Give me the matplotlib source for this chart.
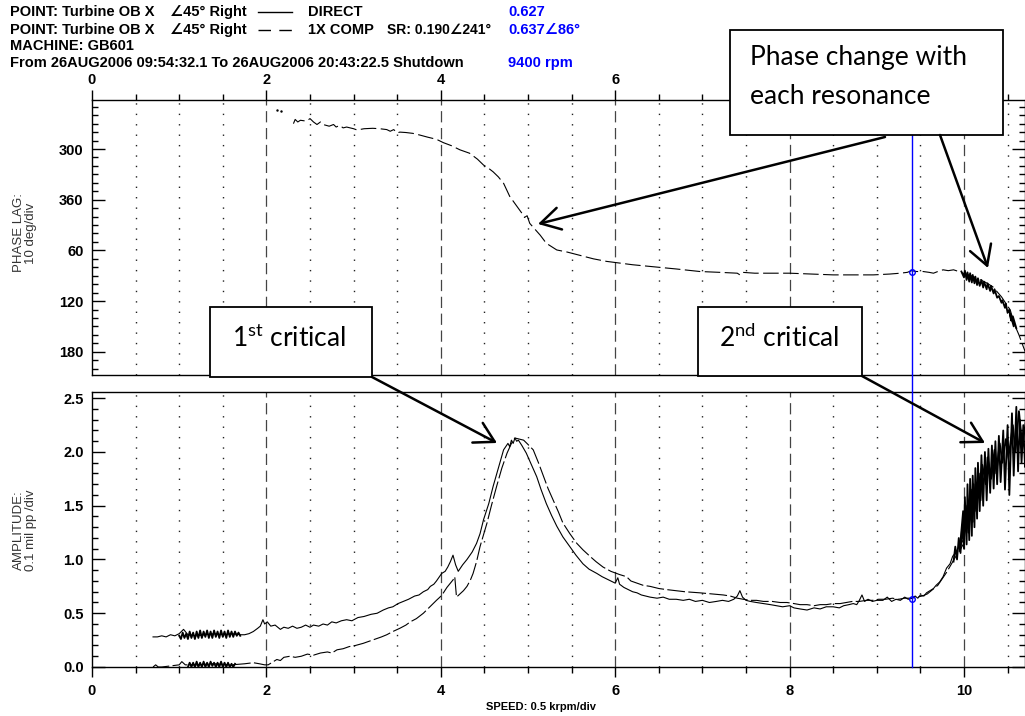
import matplotlib
matplotlib.use("Agg")
import matplotlib.pyplot as plt
from matplotlib.patches import Rectangle, FancyArrowPatch
from matplotlib.lines import Line2D
from matplotlib.ticker import MultipleLocator, FixedLocator

plt.rcParams['font.family'] = ['Liberation Sans', 'DejaVu Sans']
plt.rcParams['mathtext.fontset'] = 'custom'
plt.rcParams['mathtext.rm'] = 'Lato'

W_PX, H_PX = 1025, 716
X_PER_PX = 87.2  # px per krpm

# ---- data ----
# 1X comp phase lag, unwrapped deg (300,360,420=60,480=120,540=180)
phase_pts = [(2.31, 270), (2.33, 265), (2.36, 268), (2.39, 266), (2.46, 267), (2.5, 264),
             (2.54, 268), (2.58, 271), (2.62, 268), (2.65, 271), (2.72, 273), (2.77, 271),
             (2.8, 274), (2.84, 272), (2.88, 275), (2.92, 274), (3.0, 276), (3.04, 277.5),
             (3.12, 276), (3.22, 275.5), (3.3, 276), (3.38, 277), (3.42, 279), (3.46, 277),
             (3.5, 281), (3.53, 280), (3.6, 280.5), (3.68, 281.5), (3.76, 283.5), (3.85, 286),
             (3.95, 288.5), (4.03, 292.5), (4.12, 296), (4.22, 301), (4.33, 305), (4.42, 312),
             (4.49, 319), (4.55, 323), (4.6, 327), (4.66, 333), (4.72, 340.6), (4.79, 356),
             (4.86, 366), (4.93, 376), (4.96, 381), (4.99, 379), (5.02, 388), (5.08, 395),
             (5.14, 402), (5.21, 411.6), (5.33, 419.5), (5.45, 422), (5.6, 426), (5.75, 430),
             (5.9, 433), (6.05, 435), (6.2, 437), (6.35, 438.5), (6.5, 440), (6.7, 442),
             (6.97, 445), (7.2, 446), (7.4, 447), (7.43, 449), (7.46, 446), (7.6, 447),
             (7.8, 447), (8.0, 447), (8.25, 448), (8.5, 449), (8.75, 449), (8.96, 449),
             (9.15, 448), (9.27, 447), (9.35, 446), (9.4, 444), (9.45, 445), (9.53, 445),
             (9.6, 446), (9.65, 447), (9.7, 445), (9.76, 443), (9.82, 444), (9.88, 443),
             (9.94, 445), (9.99, 447), (10.08, 450), (10.15, 453), (10.25, 458), (10.33, 463),
             (10.43, 475), (10.53, 490.5), (10.58, 508), (10.63, 520), (10.68, 534), (10.72, 545)]
phase_dots = [(2.12, 254), (2.17, 255)]
phase_band = [(9.97, 445), (10.0, 452), (10.01, 444), (10.03, 455), (10.04, 446), (10.06, 457),
              (10.07, 447), (10.09, 458), (10.1, 449), (10.12, 459), (10.13, 451), (10.15, 461),
              (10.16, 453), (10.18, 462), (10.2, 455), (10.22, 464), (10.23, 457), (10.26, 466),
              (10.27, 459), (10.3, 468), (10.31, 462), (10.34, 471), (10.35, 466), (10.38, 476),
              (10.4, 474), (10.43, 482), (10.44, 479), (10.47, 488), (10.48, 483), (10.5, 494),
              (10.52, 490), (10.54, 503), (10.53, 495), (10.57, 510), (10.56, 498), (10.6, 512)]

# amplitude, mil pp
direct_amp = [(0.70, 0.28), (0.75, 0.28), (0.8, 0.29), (0.85, 0.28), (0.9, 0.30), (0.95, 0.29),
              (1.0, 0.31), (1.05, 0.35), (1.1, 0.30), (1.2, 0.29), (1.3, 0.30), (1.4, 0.31),
              (1.5, 0.30), (1.6, 0.31), (1.7, 0.30), (1.75, 0.30), (1.8, 0.31), (1.85, 0.33),
              (1.9, 0.36), (1.93, 0.38), (1.96, 0.44), (1.98, 0.40), (2.01, 0.42), (2.05, 0.38),
              (2.1, 0.39), (2.16, 0.35), (2.2, 0.37), (2.25, 0.36), (2.3, 0.38), (2.35, 0.36),
              (2.4, 0.37), (2.45, 0.39), (2.5, 0.37), (2.54, 0.39), (2.6, 0.38), (2.65, 0.40),
              (2.7, 0.39), (2.75, 0.42), (2.8, 0.41), (2.86, 0.43), (2.92, 0.44), (2.98, 0.43),
              (3.05, 0.46), (3.12, 0.47), (3.2, 0.49), (3.27, 0.50), (3.34, 0.53), (3.4, 0.55),
              (3.45, 0.56), (3.51, 0.59), (3.57, 0.61), (3.63, 0.63), (3.7, 0.66), (3.75, 0.67),
              (3.8, 0.70), (3.85, 0.72), (3.88, 0.75), (3.92, 0.77), (3.95, 0.80), (4.01, 0.87),
              (4.05, 0.89), (4.08, 0.93), (4.11, 0.98), (4.14, 1.04), (4.17, 0.95), (4.2, 0.89),
              (4.25, 0.95), (4.3, 1.00), (4.36, 1.07), (4.41, 1.15), (4.45, 1.24), (4.49, 1.37),
              (4.55, 1.52), (4.6, 1.68), (4.66, 1.85), (4.72, 2.02), (4.77, 2.08), (4.79, 2.05),
              (4.81, 2.11), (4.83, 2.08), (4.85, 2.13), (4.87, 2.10), (4.89, 2.11), (4.93, 2.06),
              (4.98, 1.99), (5.04, 1.88), (5.1, 1.77), (5.15, 1.65), (5.21, 1.52), (5.27, 1.41),
              (5.33, 1.31), (5.4, 1.21), (5.48, 1.12), (5.55, 1.04), (5.63, 0.96), (5.7, 0.91),
              (5.79, 0.87), (5.85, 0.84), (5.9, 0.82), (5.95, 0.80), (6.0, 0.78), (6.03, 0.83),
              (6.05, 0.77), (6.1, 0.74), (6.15, 0.72), (6.2, 0.70), (6.25, 0.69), (6.3, 0.67),
              (6.35, 0.66), (6.4, 0.65), (6.48, 0.64), (6.55, 0.65), (6.62, 0.63), (6.7, 0.63),
              (6.78, 0.62), (6.85, 0.63), (6.92, 0.61), (7.0, 0.62), (7.08, 0.60), (7.16, 0.61),
              (7.23, 0.62), (7.3, 0.61), (7.36, 0.63), (7.4, 0.66), (7.43, 0.71), (7.46, 0.65),
              (7.5, 0.62), (7.55, 0.61), (7.62, 0.60), (7.7, 0.59), (7.78, 0.58), (7.85, 0.57),
              (7.92, 0.56), (8.0, 0.57), (8.05, 0.55), (8.12, 0.54), (8.2, 0.53), (8.28, 0.55),
              (8.35, 0.54), (8.42, 0.56), (8.5, 0.56), (8.57, 0.55), (8.62, 0.57), (8.68, 0.58),
              (8.73, 0.59), (8.77, 0.58), (8.8, 0.62), (8.83, 0.67), (8.86, 0.61), (8.9, 0.63),
              (8.95, 0.61), (9.0, 0.62), (9.07, 0.62), (9.12, 0.65), (9.17, 0.61), (9.22, 0.63),
              (9.27, 0.62), (9.32, 0.65), (9.36, 0.63), (9.4, 0.64), (9.44, 0.66), (9.47, 0.64),
              (9.5, 0.67), (9.54, 0.66), (9.57, 0.69), (9.61, 0.71), (9.65, 0.73), (9.68, 0.76),
              (9.72, 0.79), (9.76, 0.84), (9.8, 0.92), (9.84, 0.96), (9.87, 1.03), (9.9, 1.06),
              (9.93, 1.10), (9.96, 1.14), (9.99, 1.18)]
comp_amp = [(0.70, 0.00), (0.73, 0.02), (0.76, 0.00), (0.8, 0.00), (0.9, 0.01), (1.0, 0.02),
            (1.03, 0.05), (1.07, 0.02), (1.2, 0.02), (1.4, 0.03), (1.6, 0.02), (1.75, 0.03),
            (1.85, 0.04), (1.92, 0.03), (1.98, 0.02), (2.02, 0.02), (2.12, 0.07), (2.16, 0.06),
            (2.2, 0.09), (2.27, 0.10), (2.33, 0.09), (2.4, 0.10), (2.47, 0.12), (2.54, 0.11),
            (2.62, 0.13), (2.7, 0.14), (2.75, 0.13), (2.81, 0.16), (2.88, 0.17), (2.95, 0.19),
            (3.02, 0.20), (3.11, 0.22), (3.18, 0.24), (3.25, 0.26), (3.32, 0.28), (3.38, 0.30),
            (3.45, 0.33), (3.53, 0.36), (3.6, 0.39), (3.65, 0.42), (3.72, 0.45), (3.8, 0.50),
            (3.85, 0.54), (3.9, 0.58), (3.95, 0.62), (3.99, 0.65), (4.03, 0.69), (4.07, 0.74),
            (4.11, 0.78), (4.14, 0.81), (4.16, 0.84), (4.18, 0.65), (4.22, 0.68), (4.26, 0.71),
            (4.3, 0.75), (4.34, 0.81), (4.37, 0.87), (4.41, 0.98), (4.45, 1.12), (4.49, 1.23),
            (4.53, 1.34), (4.58, 1.50), (4.64, 1.68), (4.7, 1.85), (4.76, 1.99), (4.81, 2.08),
            (4.85, 2.13), (4.9, 2.12), (4.95, 2.11), (5.0, 2.07), (5.06, 2.02), (5.12, 1.90),
            (5.18, 1.77), (5.23, 1.66), (5.29, 1.55), (5.35, 1.44), (5.4, 1.34), (5.48, 1.24),
            (5.56, 1.15), (5.63, 1.09), (5.71, 1.03), (5.78, 0.98), (5.86, 0.93), (5.95, 0.89),
            (6.05, 0.86), (6.13, 0.84), (6.18, 0.80), (6.25, 0.78), (6.32, 0.76), (6.4, 0.75),
            (6.5, 0.73), (6.59, 0.72), (6.7, 0.71), (6.8, 0.70), (6.97, 0.69), (7.1, 0.68),
            (7.24, 0.67), (7.32, 0.66), (7.4, 0.64), (7.47, 0.63), (7.55, 0.62), (7.62, 0.62),
            (7.7, 0.61), (7.8, 0.61), (7.89, 0.60), (7.97, 0.60), (8.05, 0.59), (8.12, 0.58),
            (8.2, 0.58), (8.28, 0.57), (8.35, 0.58), (8.42, 0.58), (8.5, 0.59), (8.58, 0.59),
            (8.65, 0.60), (8.72, 0.61), (8.8, 0.61), (8.88, 0.62), (8.95, 0.62), (9.02, 0.63),
            (9.1, 0.63), (9.18, 0.64), (9.25, 0.63), (9.32, 0.64), (9.4, 0.64), (9.46, 0.65),
            (9.52, 0.66), (9.58, 0.68), (9.64, 0.72), (9.7, 0.76), (9.75, 0.82), (9.8, 0.88),
            (9.85, 0.95), (9.9, 1.02), (9.95, 1.08), (9.99, 1.14)]
direct_band_low = [(1.0, 0.29), (1.02, 0.26), (1.04, 0.32), (1.06, 0.27), (1.08, 0.31), (1.1, 0.26),
                   (1.12, 0.33), (1.14, 0.27), (1.16, 0.32), (1.18, 0.26), (1.2, 0.33), (1.22, 0.27),
                   (1.24, 0.34), (1.26, 0.27), (1.28, 0.33), (1.3, 0.28), (1.32, 0.34), (1.34, 0.27),
                   (1.36, 0.33), (1.38, 0.27), (1.4, 0.34), (1.42, 0.28), (1.44, 0.33), (1.46, 0.27),
                   (1.48, 0.34), (1.5, 0.28), (1.52, 0.33), (1.54, 0.27), (1.56, 0.34), (1.58, 0.28),
                   (1.6, 0.33), (1.62, 0.28), (1.64, 0.33), (1.66, 0.29), (1.68, 0.32), (1.7, 0.29)]
comp_band_low = [(1.1, 0.00), (1.12, 0.04), (1.14, 0.00), (1.16, 0.04), (1.18, 0.00), (1.2, 0.05),
                 (1.22, 0.00), (1.24, 0.04), (1.26, 0.00), (1.28, 0.05), (1.3, 0.00), (1.32, 0.04),
                 (1.34, 0.00), (1.36, 0.05), (1.38, 0.01), (1.4, 0.04), (1.42, 0.00), (1.44, 0.04),
                 (1.46, 0.00), (1.48, 0.05), (1.5, 0.00), (1.52, 0.04), (1.54, 0.00), (1.56, 0.04),
                 (1.58, 0.00), (1.6, 0.03), (1.62, 0.00), (1.64, 0.03)]
amp_band_high = [(9.88, 0.98), (9.9, 1.12), (9.92, 1.0), (9.94, 1.2), (9.96, 1.06), (9.98, 1.32),
                 (10.0, 1.1), (10.01, 1.58), (10.03, 1.14), (10.04, 1.7), (10.06, 1.18), (10.07, 1.75),
                 (10.09, 1.22), (10.1, 1.78), (10.12, 1.3), (10.13, 1.85), (10.15, 1.38), (10.16, 1.9),
                 (10.18, 1.45), (10.2, 1.97), (10.22, 1.5), (10.24, 2.0), (10.26, 1.55), (10.28, 2.03),
                 (10.3, 1.62), (10.32, 2.06), (10.34, 1.66), (10.36, 2.1), (10.38, 1.7), (10.4, 2.15),
                 (10.42, 1.72), (10.45, 2.2), (10.47, 1.65), (10.5, 2.25), (10.52, 1.6), (10.55, 2.36),
                 (10.57, 1.78), (10.6, 2.42), (10.62, 1.82), (10.64, 2.3), (10.66, 1.9), (10.68, 2.25),
                 (10.7, 1.86), (10.72, 2.2)]
amp_band_high2 = [(9.95, 1.08), (9.99, 1.45), (10.0, 1.2), (10.02, 1.5), (10.05, 1.25), (10.08, 1.65),
                  (10.1, 1.35), (10.11, 1.7), (10.14, 1.45), (10.17, 1.8), (10.19, 1.55), (10.21, 1.88),
                  (10.25, 1.7), (10.27, 1.95), (10.31, 1.75), (10.35, 2.02), (10.37, 1.8), (10.41, 2.08),
                  (10.44, 1.9), (10.48, 2.12), (10.51, 1.95), (10.56, 2.25), (10.59, 2.0), (10.63, 2.38),
                  (10.67, 2.05), (10.71, 2.3)]

SPEED_NOW = 9.4
PHASE_NOW = 446
AMP_NOW = 0.637

phase_ticks = [300, 360, 420, 480, 540]
phase_labels = ['300', '360', '60', '120', '180']
x_major = [0, 2, 4, 6, 8, 10]
top_labels = ['0', '2', '4', '6', '', '']  # 8 and 10 sit under the call-out box


def fx(px):
    return px / W_PX


def fy(py):
    return 1 - py / H_PX


fig = plt.figure(figsize=(W_PX / 100, H_PX / 100), dpi=100)
left = fx(92)
width = 1 - left
h = (375 - 100) / H_PX
ax1 = fig.add_axes([left, fy(375), width, h])
ax2 = fig.add_axes([left, fy(667), width, h])
xmax = (W_PX - 92) / X_PER_PX

tick_font = dict(fontsize=10.5, fontweight='bold')

for ax in (ax1, ax2):
    ax.set_xlim(0, xmax)
    for s in ax.spines.values():
        s.set_linewidth(1.0)
    # grid: dashed every 2, dotted every 0.5
    for k in range(1, 22):
        gx = k * 0.5
        if gx > xmax:
            break
        if gx % 2 == 0:
            ax.axvline(gx, color='#444444', lw=0.9, ls=(0, (9, 4.5)), zorder=1)
        else:
            ax.axvline(gx, color='#222222', lw=1.0, ls=(0, (1, 6.5)), zorder=1)
    ax.xaxis.set_major_locator(FixedLocator(x_major))
    ax.xaxis.set_minor_locator(MultipleLocator(0.5))
    ax.tick_params(axis='y', which='both', direction='in', left=True, right=True)
    ax.tick_params(axis='y', which='major', length=9.5, width=1.0, pad=6)
    ax.tick_params(axis='y', which='minor', length=4.3, width=1.0)
    ax.tick_params(axis='x', which='both', direction='out')
    ax.tick_params(axis='x', which='major', length=7, width=1.0, pad=5)
    ax.tick_params(axis='x', which='minor', length=4, width=1.0)

# ---- phase ----
ax1.set_ylim(567.5, 242)
ax1.yaxis.set_major_locator(FixedLocator(phase_ticks))
ax1.yaxis.set_minor_locator(MultipleLocator(10))
ax1.set_yticklabels(phase_labels, **tick_font)
ax1.xaxis.tick_top()
ax1.set_xticklabels(top_labels, **tick_font)
ax1.tick_params(axis='x', which='both', bottom=False, top=True)
ax1.tick_params(axis='x', which='major', pad=2)

px_, py_ = zip(*phase_pts)
ax1.plot(px_, py_, color='black', lw=0.8, dashes=(14, 4), zorder=3)
bx, by = zip(*phase_band)
ax1.plot(bx, by, color='black', lw=1.3, zorder=3)
dx, dy = zip(*phase_dots)
ax1.plot(dx, dy, ls='none', marker='.', ms=1.5, color='black')
ax1.axvline(SPEED_NOW, color='blue', lw=1.0, zorder=4)
ax1.plot(SPEED_NOW, PHASE_NOW, 'o', mfc='none', mec='blue', ms=4, mew=1, zorder=5)

# ---- amplitude ----
ax2.set_ylim(0, 2.558)
ax2.yaxis.set_major_locator(MultipleLocator(0.5))
ax2.yaxis.set_minor_locator(MultipleLocator(0.1))
ax2.set_yticks([0, 0.5, 1.0, 1.5, 2.0, 2.5])
ax2.set_yticklabels(['0.0', '0.5', '1.0', '1.5', '2.0', '2.5'], **tick_font)
ax2.set_xticks(x_major)
ax2.set_xticklabels([str(v) for v in x_major], **tick_font)

ax_x, ax_y = zip(*direct_amp)
ax2.plot(ax_x, ax_y, color='black', lw=0.8, zorder=3)
cx, cy = zip(*comp_amp)
ax2.plot(cx, cy, color='black', lw=0.8, dashes=(16, 3), zorder=3)
for band in (direct_band_low, comp_band_low, amp_band_high, amp_band_high2):
    bx, by = zip(*band)
    ax2.plot(bx, by, color='black', lw=1.3, zorder=3)
gap = (392 - 375) / 275
ax2.axvline(SPEED_NOW, ymin=0, ymax=1 + gap, color='blue', lw=1.0, zorder=4, clip_on=False)
ax2.plot(SPEED_NOW, AMP_NOW, 'o', mfc='none', mec='blue', ms=4, mew=1, zorder=5)

# ---- axis titles ----
narrow = ['Liberation Sans Narrow', 'Liberation Sans', 'DejaVu Sans']
fig.text(fx(25), fy(233), 'PHASE LAG:\n10 deg/div', rotation=90, ha='center', va='center',
         fontsize=9.5, family=narrow, color='#333333', linespacing=0.95)
fig.text(fx(25), fy(530), 'AMPLITUDE:\n0.1 mil pp /div', rotation=90, ha='center', va='center',
         fontsize=9.5, family=narrow, color='#333333', linespacing=0.95)
fig.text(fx(541), fy(707), 'SPEED: 0.5 krpm/div', ha='center', va='center',
         fontsize=8, fontweight='bold')

# ---- header ----
hdr = dict(fontsize=10.5, fontweight='bold', va='center', family=['Liberation Sans', 'DejaVu Sans'])
hdr_sr = dict(hdr)
hdr_sr['fontsize'] = 10
rows = [12, 30, 46, 63]
fig.text(fx(10), fy(rows[0]), 'POINT: Turbine OB X', **hdr)
fig.text(fx(170), fy(rows[0]), '\u222045\u00b0 Right', **hdr)
fig.text(fx(308), fy(rows[0]), 'DIRECT', **hdr)
fig.text(fx(508), fy(rows[0]), '0.627', color='blue', **hdr)
fig.text(fx(10), fy(rows[1]), 'POINT: Turbine OB X', **hdr)
fig.text(fx(170), fy(rows[1]), '\u222045\u00b0 Right', **hdr)
fig.text(fx(308), fy(rows[1]), '1X COMP', **hdr)
fig.text(fx(387), fy(rows[1]), 'SR: 0.190\u2220241\u00b0', **hdr_sr)
fig.text(fx(508), fy(rows[1]), '0.637\u222086\u00b0', color='blue', **hdr)
fig.text(fx(10), fy(rows[2]), 'MACHINE: GB601', **hdr)
fig.text(fx(10), fy(rows[3]), 'From 26AUG2006 09:54:32.1 To 26AUG2006 20:43:22.5 Shutdown', **hdr)
fig.text(fx(508), fy(rows[3]), '9400 rpm', color='blue', **hdr)
fig.add_artist(Line2D([fx(258), fx(292)], [fy(rows[0]), fy(rows[0])], color='black', lw=1.0))
fig.add_artist(Line2D([fx(258), fx(292)], [fy(rows[1]), fy(rows[1])], color='black', lw=1.0,
                      dashes=(9, 6)))

# ---- call-out boxes ----
def callout(x0, y0, x1, y1, text, tx, ty, ha='center'):
    fig.add_artist(Rectangle((fx(x0), fy(y1)), fx(x1) - fx(x0), fy(y0) - fy(y1),
                             transform=fig.transFigure, facecolor='white',
                             edgecolor='black', lw=1.3, zorder=10))
    fig.text(fx(tx), fy(ty), text, ha=ha, va='center', fontsize=19, family='Lato',
             zorder=11, linespacing=1.75)


def arrow(p0, p1):
    fig.add_artist(FancyArrowPatch((fx(p0[0]), fy(p0[1])), (fx(p1[0]), fy(p1[1])),
                                   transform=fig.transFigure, arrowstyle='->,head_length=0.7,head_width=0.4',
                                   mutation_scale=20, lw=1.8, color='black', zorder=12,
                                   shrinkA=0, shrinkB=0))


callout(730, 30, 1003, 135, 'Phase change with\neach resonance', 750, 77, ha='left')
callout(210, 307, 372, 377, '1$^{\\mathrm{st}}$ critical', 289, 338)
callout(698, 307, 862, 376, '2$^{\\mathrm{nd}}$ critical', 779, 338)
arrow((885, 137), (538, 224))
arrow((940, 135), (988, 268))
arrow((372, 377), (497, 443))
arrow((862, 376), (985, 443))

fig.savefig('out.png', dpi=100)
